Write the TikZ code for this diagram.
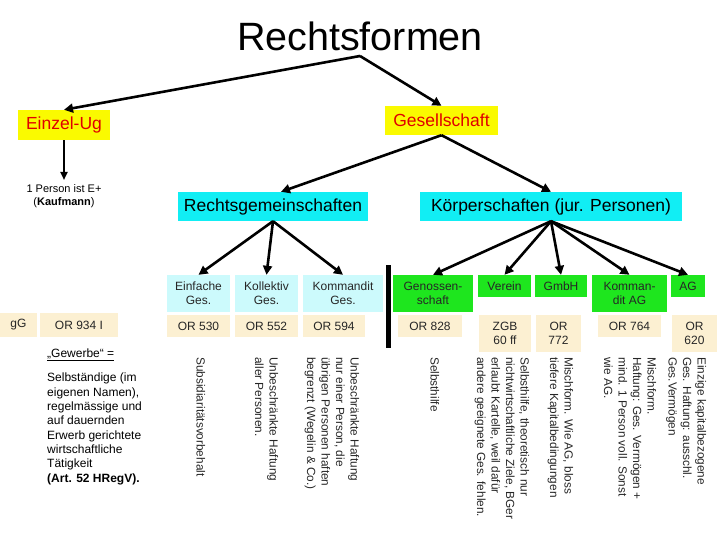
\documentclass[tikz,border=0pt]{standalone}
\usepackage{fontspec}
\setmainfont{Liberation Sans}
\usetikzlibrary{arrows.meta}
\definecolor{ylw}{HTML}{FAFA00}
\definecolor{rd}{HTML}{E00000}
\definecolor{cyn}{HTML}{11EEF4}
\definecolor{lcyan}{HTML}{CCFAFC}
\definecolor{beige}{HTML}{FCF0D2}
\definecolor{grn}{HTML}{1EE61E}
\definecolor{txt}{HTML}{262626}
\begin{document}
\begin{tikzpicture}[x=1pt,y=-1pt,
  arr/.style={line width=2.6pt,-{Triangle[length=9pt,width=9pt]}},
  thinarr/.style={line width=2pt,-{Triangle[length=8pt,width=7pt]}},
  head/.style={inner sep=0pt,fill=ylw,text=rd,font=\fontsize{17.5}{20}\selectfont},
  mid/.style={inner sep=0pt,fill=cyn,text=black,font=\fontsize{17.5}{20}\selectfont},
  cell/.style={inner sep=0pt,align=center,text=txt,font=\fontsize{12}{14}\selectfont},
  rg/.style={cell,fill=lcyan},
  kp/.style={cell,fill=grn},
  orc/.style={cell,fill=beige},
  vt/.style={rotate=-90,align=left,inner sep=0pt,text=txt,font=\fontsize{11.8}{14.5}\selectfont,anchor=base west}]
\fill[white] (0,0) rectangle (720,540);
\useasboundingbox (0,0) rectangle (720,540);

\node[font=\fontsize{39.5}{42}\selectfont,anchor=base,inner sep=0pt] (title) at (360,51) {Rechtsformen};
\coordinate (fork) at (360,56);

\node[head,minimum width=92,minimum height=30] (ez) at (64,125) {Einzel-Ug};
\node[head,minimum width=113,minimum height=29] (ges) at (441.5,120.5) {Gesellschaft};
\node[inner sep=0pt,align=center,anchor=north,font=\fontsize{11}{13.5}\selectfont] (person) at (64,184) {1 Person ist E+\\(\textbf{Kaufmann})};

\node[mid,minimum width=190,minimum height=29] (rgm) at (273,206.5) {Rechtsgemeinschaften};
\node[mid,minimum width=262,minimum height=29] (kpm) at (551,206.5) {Körperschaften (jur. Personen)};

\draw[arr] (fork) -- (ez.north);
\draw[arr] (fork) -- (ges.north);
\draw[thinarr] (ez.south) -- ([yshift=4pt]person.north);
\draw[arr] (ges.south) -- ([xshift=8pt]rgm.north);
\draw[arr] (ges.south) -- (kpm.north);

% Rechtsgemeinschaften row
\node[rg,minimum width=63,minimum height=37] (einf) at (198.5,293.5) {Einfache\\Ges.};
\node[rg,minimum width=63,minimum height=37] (koll) at (266.5,293.5) {Kollektiv\\Ges.};
\node[rg,minimum width=80,minimum height=37] (komm) at (343,293.5) {Kommandit\\Ges.};
\node[orc,minimum width=63,minimum height=22] (or530) at (198.5,326) {OR 530};
\node[orc,minimum width=63,minimum height=22] (or552) at (266.5,326) {OR 552};
\node[orc,minimum width=62,minimum height=22] (or594) at (334,326) {OR 594};
\node[orc,minimum width=37,minimum height=24] (gg) at (18.5,325) {gG};
\node[orc,minimum width=78,minimum height=24] (or934) at (79,325) {OR 934 I};

\draw[arr] (rgm.south) -- (einf.north);
\draw[arr] (rgm.south) -- (koll.north);
\draw[arr] (rgm.south) -- (komm.north);

\node[fill=black,inner sep=0pt,minimum width=5,minimum height=83] (bar) at (388.5,306.5) {};

% Koerperschaften row
\node[kp,minimum width=80,minimum height=37] (gen) at (433,293.5) {Genossen-\\schaft};
\node[kp,minimum width=53,minimum height=22] (ver) at (504.5,286) {Verein};
\node[kp,minimum width=52,minimum height=22] (gmbh) at (561,286) {GmbH};
\node[kp,minimum width=75,minimum height=37] (kag) at (629.5,293.5) {Komman-\\dit AG};
\node[kp,minimum width=34,minimum height=22] (ag) at (688,286) {AG};
\node[orc,minimum width=64,minimum height=22] (or828) at (430,326) {OR 828};
\node[orc,minimum width=52,minimum height=37] (zgb) at (505,333.5) {ZGB\\60 ff};
\node[orc,minimum width=45,minimum height=37] (or772) at (558.5,333.5) {OR\\772};
\node[orc,minimum width=63,minimum height=22] (or764) at (629.5,326) {OR 764};
\node[orc,minimum width=45,minimum height=37] (or620) at (694.5,333.5) {OR\\620};

\draw[arr] (kpm.south) -- (gen.north);
\draw[arr] (kpm.south) -- (ver.north);
\draw[arr] (kpm.south) -- (gmbh.north);
\draw[arr] (kpm.south) -- (kag.north);
\draw[arr] (kpm.south) -- (ag.north);

% Gewerbe
\node[anchor=base west,inner sep=0pt,font=\fontsize{12}{14.3}\selectfont] (gwb) at (47,357) {\underline{„Gewerbe“ =}};
\node[anchor=base west,align=left,inner sep=0pt,font=\fontsize{12}{14.3}\selectfont] (gew) at (47,482) {Selbständige (im\\eigenen Namen),\\regelmässige und\\auf dauernden\\Erwerb gerichtete\\wirtschaftliche\\Tätigkeit\\\textbf{(Art. 52 HRegV).}};

% vertical texts (anchor at baseline of last line)
\node[vt] (v1) at (196.5,357) {Subsidiaritätsvorbehalt};
\node[vt] (v2) at (255,357) {Unbeschränkte Haftung\\aller Personen.};
\node[vt] (v3) at (307,357) {Unbeschränkte Haftung\\nur einer Person, die\\übrigen Personen haften\\begrenzt (Wegelin \& Co.)};
\node[vt] (v4) at (430.5,357) {Selbsthilfe};
\node[vt] (v5) at (477,357) {Selbsthilfe, theoretisch nur\\nichtwirtschaftliche Ziele, BGer\\erlaubt Kartelle, weil dafür\\andere geeignete Ges. fehlen.};
\node[vt] (v6) at (550,357) {Mischform. Wie AG, bloss\\tiefere Kapitalbedingungen};
\node[vt] (v7) at (604,357) {Mischform.\\Haftung: Ges. Vermögen +\\mind. 1 Person voll. Sonst\\wie AG.};
\node[vt] (v8) at (668.5,357) {Einzige kapitalbezogene\\Ges. Haftung: ausschl.\\Ges.Vermögen};
\end{tikzpicture}
\end{document}
